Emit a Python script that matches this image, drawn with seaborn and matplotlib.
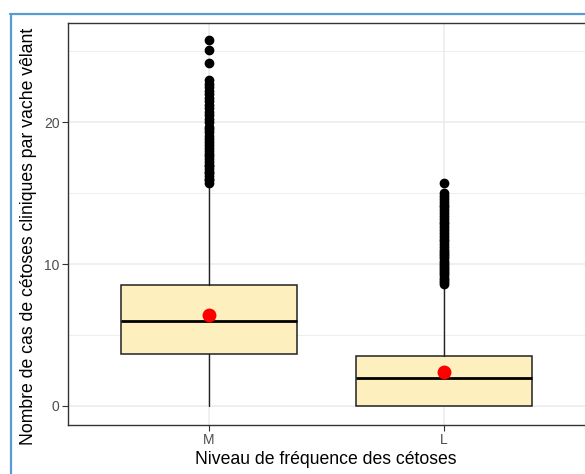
import matplotlib
matplotlib.use("Agg")
import matplotlib.pyplot as plt
from matplotlib.patches import Rectangle
from matplotlib.lines import Line2D
import seaborn as sns

# Data
categories = ["M", "L"]
q1 = [3.7, 0.0]
medians = [6.0, 2.0]
q3 = [8.5, 3.5]
whisker_low = [0.0, 0.0]
whisker_high = [15.6, 8.5]
means = [6.4, 2.42]
outliers_m = [15.7, 15.9, 16.0, 16.2, 16.4, 16.5, 16.7, 16.9, 17.0, 17.2,
              17.4, 17.6, 17.8, 18.0, 18.2, 18.4, 18.6, 18.8, 19.0, 19.3,
              19.5, 19.7, 20.0, 20.2, 20.5, 20.7, 21.0, 21.2, 21.5, 21.7,
              22.0, 22.2, 22.5, 22.7, 23.0, 24.2, 25.1, 25.8]
outliers_l = [8.6, 8.75, 8.9, 9.05, 9.2, 9.35, 9.5, 9.65, 9.8, 9.95,
              10.1, 10.25, 10.4, 10.55, 10.7, 10.85, 11.0, 11.2, 11.4, 11.6,
              11.8, 12.0, 12.2, 12.4, 12.6, 12.8, 13.0, 13.2, 13.4, 13.6,
              13.8, 14.0, 14.2, 14.4, 14.6, 14.8, 15.0, 15.7]

sns.set_theme(style="white")
plt.rcParams["font.family"] = ["Liberation Sans", "DejaVu Sans"]

fig = plt.figure(figsize=(5.85, 4.74), dpi=100)
W, H = 585, 474
ax = fig.add_axes([68 / W, 1 - 425 / H, (585 - 68) / W, (425 - 23) / H])

stats = []
fliers = [outliers_m, outliers_l]
for i, cat in enumerate(categories):
    stats.append({
        "label": cat, "q1": q1[i], "med": medians[i], "q3": q3[i],
        "whislo": whisker_low[i], "whishi": whisker_high[i],
        "fliers": fliers[i],
    })

positions = list(range(len(categories)))
ax.bxp(stats, positions=positions, widths=0.75, patch_artist=True,
       showcaps=False, zorder=3,
       boxprops=dict(facecolor="#FEEFBF", edgecolor="#222222", linewidth=1.1),
       medianprops=dict(color="black", linewidth=2.0),
       whiskerprops=dict(color="#222222", linewidth=1.0),
       flierprops=dict(marker="o", markerfacecolor="black",
                       markeredgecolor="black", markersize=6))

sns.scatterplot(x=positions, y=means, color="red", s=100, edgecolor="red",
                linewidth=0, zorder=5, ax=ax)

ax.set_xlim(-0.6, 1.6)
ax.set_ylim(-1.34, 27.0)
ax.set_xticks(positions)
ax.set_xticklabels(categories)
ax.set_yticks([0, 10, 20])
ax.set_yticks([5, 15, 25], minor=True)
ax.grid(True, which="major", color="#EBEBEB", linewidth=1.1, zorder=0)
ax.grid(True, which="minor", axis="y", color="#EBEBEB", linewidth=0.6, zorder=0)
ax.set_axisbelow(True)
ax.tick_params(axis="both", which="major", length=4, width=0.8,
               color="#333333", labelcolor="#4D4D4D", labelsize=10, pad=2,
               bottom=True, left=True)
ax.tick_params(which="minor", length=0)
for sp in ax.spines.values():
    sp.set_color("#333333")
    sp.set_linewidth(1.0)
ax.spines["right"].set_visible(False)
ax.set_xlabel("")
ax.set_ylabel("")

fig.text(326 / W, 1 - 460 / H, "Niveau de fréquence des cétoses",
         ha="center", va="center", fontsize=12.7, color="black")
fig.text(29 / W, 1 - 445 / H,
         "Nombre de cas de cétoses cliniques par vache vêlant",
         rotation=90, ha="center", va="bottom", fontsize=12.7, color="black")

# screenshot frame
fig.patches.append(Rectangle((0, 1 - 14 / H), 1, 14 / H, transform=fig.transFigure,
                             facecolor="white", edgecolor="none", zorder=10))
fig.lines.append(Line2D([10 / W, 1], [1 - 14 / H, 1 - 14 / H],
                        transform=fig.transFigure, color="#5B9BD5",
                        linewidth=1.6, zorder=11))
fig.lines.append(Line2D([11 / W, 11 / W], [0, 1 - 14 / H],
                        transform=fig.transFigure, color="#5B9BD5",
                        linewidth=1.6, zorder=11))

fig.savefig("out.png", dpi=100)
